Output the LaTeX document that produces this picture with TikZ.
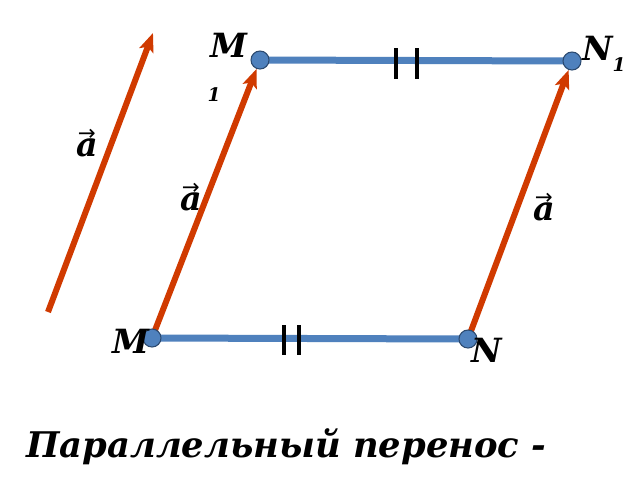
\documentclass[tikz,border=0pt]{standalone}
\usepackage{fontspec}
\setmainfont{DejaVu Serif}
\newfontfamily\arrfont{DejaVu Sans}
\usetikzlibrary{arrows.meta,backgrounds}
\definecolor{myblue}{HTML}{4F81BD}
\definecolor{myred}{HTML}{D03A00}
\definecolor{myedge}{HTML}{2C4A70}
\newcommand{\veca}{\makebox[0pt][l]{\raisebox{0.5em}{\arrfont\mdseries\upshape\fontsize{16}{16}\selectfont\hspace{0.08em}→}}a}
\begin{document}
\begin{tikzpicture}[x=0.75pt,y=-0.75pt,
  dot/.style={circle, fill=myblue, draw=myedge, line width=0.8pt, minimum size=13.5pt, inner sep=0pt},
  vec/.style={myred, line width=4.5pt, -{Stealth[length=14pt,width=11pt,inset=3pt]}},
  seg/.style={myblue, line width=5.25pt},
  tickm/.style={black, line width=3pt},
  lbl/.style={font=\bfseries\itshape\fontsize{25}{30}\selectfont, inner sep=0pt},
  sub/.style={font=\bfseries\itshape\fontsize{14}{16}\selectfont, inner sep=0pt}]
\useasboundingbox (0,0) rectangle (640,480);
% points
\node[dot] (M) at (152,338) {};
\node[dot] (N) at (468,339) {};
\node[dot] (M1) at (260,60) {};
\node[dot] (N1) at (572,61) {};
\coordinate (A0) at (48,312);
\coordinate (A1) at (153,33);
\begin{scope}[on background layer]
  \fill[white] (0,0) rectangle (640,480);
  \draw[seg] (M.center) -- (N.center);
  \draw[seg] (M1.center) -- (N1.center);
  \draw[vec] (M.center) -- (M1);
  \draw[vec] (N.center) -- (N1);
  % tick marks
  \coordinate (t1a) at (396,48); \coordinate (t1b) at (396,79);
  \coordinate (t2a) at (417,48); \coordinate (t2b) at (417,79);
  \coordinate (t3a) at (284,325); \coordinate (t3b) at (284,355);
  \coordinate (t4a) at (299,325); \coordinate (t4b) at (299,355);
  \draw[tickm] (t1a) -- (t1b);
  \draw[tickm] (t2a) -- (t2b);
  \draw[tickm] (t3a) -- (t3b);
  \draw[tickm] (t4a) -- (t4b);
\end{scope}
\draw[vec] (A0) -- (A1);
% labels
\node[lbl] (lM1) at (229,45) {M};
\node[sub] (lM1s) at (214,95) {1};
\node[lbl,anchor=west] (lN1) at (582,54) {N\raisebox{-0.35em}{\fontsize{14}{16}\selectfont 1}};
\node[lbl] (lM) at (131,341) {M};
\node[lbl] (lN) at (487,350) {N};
\node[lbl] (v1) at (87,143) {\veca};
\node[lbl] (v2) at (191,197) {\veca};
\node[lbl] (v3) at (544,207) {\veca};
\node[lbl,anchor=west,font=\bfseries\itshape\fontsize{26.5}{30}\selectfont] (title) at (26,447) {Параллельный перенос -};
\end{tikzpicture}
\end{document}
